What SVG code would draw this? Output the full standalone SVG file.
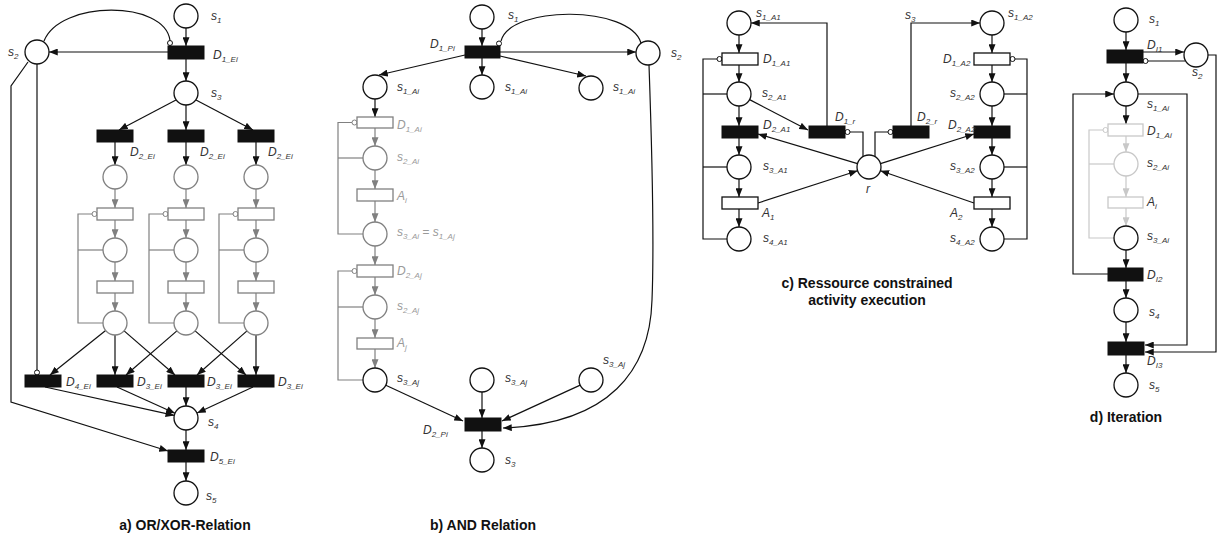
<svg xmlns="http://www.w3.org/2000/svg" width="1218" height="540" viewBox="0 0 1218 540">
<style>
.p{fill:#fff;stroke:#111;stroke-width:1.3}
.pg{fill:#fff;stroke:#808080;stroke-width:1.3}
.pl{fill:#fff;stroke:#c8c8c8;stroke-width:1.3}
.tb{fill:#111;stroke:#111;stroke-width:1}
.tw{fill:#fff;stroke:#111;stroke-width:1.3}
.tg{fill:#fff;stroke:#808080;stroke-width:1.3}
.tl{fill:#fff;stroke:#c8c8c8;stroke-width:1.3}
.e{fill:none;stroke:#111;stroke-width:1.2}
.eg{fill:none;stroke:#808080;stroke-width:1.2}
.el{fill:none;stroke:#c8c8c8;stroke-width:1.2}
.a{marker-end:url(#ab)}
.ag{marker-end:url(#ag)}
.al{marker-end:url(#al)}
.i{fill:#fff;stroke:#111;stroke-width:1}
.ig{fill:#fff;stroke:#808080;stroke-width:1}
.il{fill:#fff;stroke:#c8c8c8;stroke-width:1}
.lb{font-family:"Liberation Sans",Arial,sans-serif;font-style:italic;font-size:12px;fill:#333}
.lg{fill:#9a9a9a}
.sb{font-size:8px}
.en{text-anchor:end}
.ttl{font-family:"Liberation Sans",Arial,sans-serif;font-weight:bold;font-size:14px;text-anchor:middle;fill:#111}
</style>
<defs>
<marker id="ab" viewBox="0 0 10 8" refX="10" refY="4" markerWidth="9" markerHeight="7" orient="auto" markerUnits="userSpaceOnUse"><path d="M0,0 L10,4 L0,8 z" fill="#111"/></marker>
<marker id="ag" viewBox="0 0 10 8" refX="10" refY="4" markerWidth="9" markerHeight="7" orient="auto" markerUnits="userSpaceOnUse"><path d="M0,0 L10,4 L0,8 z" fill="#808080"/></marker>
<marker id="al" viewBox="0 0 10 8" refX="10" refY="4" markerWidth="9" markerHeight="7" orient="auto" markerUnits="userSpaceOnUse"><path d="M0,0 L10,4 L0,8 z" fill="#c8c8c8"/></marker>
</defs>

<!-- ================= connectors ================= -->
<g id="connectors">
<!-- a -->
<path class="e a" d="M186 28 V46"/>
<path class="e a" d="M168 52 H49"/>
<path class="e" d="M44 41 C60 0 165 0 170 40.5"/>
<circle class="i" cx="170" cy="43" r="2.5"/>
<path class="e a" d="M186 59 V81"/>
<path class="e a" d="M176 100 L119 130"/>
<path class="e a" d="M186 105 V130"/>
<path class="e a" d="M196 100 L253 130"/>
<path class="e a" d="M115 142 V165"/>
<path class="e a" d="M186 142 V165"/>
<path class="e a" d="M256 142 V165"/>
<!-- gray columns -->
<path class="eg ag" d="M115 189 V208"/><path class="eg ag" d="M115 220 V238"/><path class="eg ag" d="M115 262 V281"/><path class="eg ag" d="M115 293 V311"/>
<path class="eg" d="M92.5 214 H78 V323 H103"/><path class="eg" d="M78 250 H103"/><circle class="ig" cx="94.5" cy="214" r="2.5"/>
<path class="eg ag" d="M186 189 V208"/><path class="eg ag" d="M186 220 V238"/><path class="eg ag" d="M186 262 V281"/><path class="eg ag" d="M186 293 V311"/>
<path class="eg" d="M163.5 214 H149 V323 H174"/><path class="eg" d="M149 250 H174"/><circle class="ig" cx="165.5" cy="214" r="2.5"/>
<path class="eg ag" d="M256 189 V208"/><path class="eg ag" d="M256 220 V238"/><path class="eg ag" d="M256 262 V281"/><path class="eg ag" d="M256 293 V311"/>
<path class="eg" d="M233.5 214 H219 V323 H244"/><path class="eg" d="M219 250 H244"/><circle class="ig" cx="235.5" cy="214" r="2.5"/>
<!-- to bottom transitions -->
<path class="e a" d="M105.6 330.5 L50 375"/>
<path class="e a" d="M115 335 V375"/>
<path class="e a" d="M124.1 330.9 L175 375"/>
<path class="e a" d="M176.9 330.9 L126 375"/>
<path class="e a" d="M195.1 330.9 L246 375"/>
<path class="e a" d="M247 330.9 L197 375"/>
<path class="e a" d="M256 335 V375"/>
<path class="e" d="M37 64 V370"/>
<circle class="i" cx="37" cy="372.5" r="2.5"/>
<path class="e a" d="M28 62 L11 86 V402 L168 451"/>
<path class="e a" d="M45 387 L174.3 415.4"/>
<path class="e a" d="M117 387 L175 413.2"/>
<path class="e a" d="M186 387 V406"/>
<path class="e a" d="M253 387 L197.1 413"/>
<path class="e a" d="M186 430 V450"/>
<path class="e a" d="M186 462 V481"/>

<!-- b -->
<path class="e a" d="M482 29 V46"/>
<path class="e a" d="M465 55 L379 75"/>
<path class="e a" d="M482 58 V75"/>
<path class="e a" d="M500 56 L586 76"/>
<path class="e a" d="M500 52 H636"/>
<path class="e" d="M501 41 C510 5 630 5 641 43"/>
<circle class="i" cx="499" cy="43.5" r="2.5"/>
<path class="e a" d="M375 99 V117"/>
<path class="eg ag" d="M375 128 V146"/>
<path class="eg ag" d="M375 170 V189"/>
<path class="eg ag" d="M375 201 V222"/>
<path class="eg ag" d="M375 246 V265"/>
<path class="eg ag" d="M375 277 V295"/>
<path class="eg ag" d="M375 319 V338"/>
<path class="eg ag" d="M375 349 V368"/>
<path class="eg" d="M352 122.5 H338 V234 H363"/><path class="eg" d="M338 158 H363"/><circle class="ig" cx="354.5" cy="122.5" r="2.5"/>
<path class="eg" d="M352 271 H338 V380 H363"/><path class="eg" d="M338 307 H363"/><circle class="ig" cx="354.5" cy="271" r="2.5"/>
<path class="e a" d="M385.8 385.2 L463 421"/>
<path class="e a" d="M482 392 V418"/>
<path class="e a" d="M580.2 385.1 L502 421"/>
<path class="e a" d="M649 65 C652 150 654 250 652 300 C650 370 610 424 503 428"/>
<path class="e a" d="M482 431 V448"/>

<!-- c -->
<path class="e a" d="M739 35 V53"/><path class="e a" d="M739 65 V82"/><path class="e a" d="M739 106 V126"/>
<path class="e a" d="M739 138 V155"/><path class="e a" d="M739 179 V197"/><path class="e a" d="M739 209 V227"/>
<path class="e" d="M717 59 H703 V239 H727"/><path class="e" d="M703 94 H727"/><path class="e" d="M703 167 H727"/>
<circle class="i" cx="719.5" cy="59" r="2.5"/>
<path class="e a" d="M992 35 V53"/><path class="e a" d="M992 65 V82"/><path class="e a" d="M992 106 V126"/>
<path class="e a" d="M992 138 V155"/><path class="e a" d="M992 179 V197"/><path class="e a" d="M992 209 V227"/>
<path class="e" d="M1015 59 H1027 V239 H1004"/><path class="e" d="M1027 94 H1004"/><path class="e" d="M1027 167 H1004"/>
<circle class="i" cx="1012.5" cy="59" r="2.5"/>
<path class="e a" d="M827 126 V23 H751"/>
<path class="e a" d="M911 126 V23 H980"/>
<path class="e a" d="M749.6 99.6 L808 130"/>
<path class="e" d="M850 132 H863 V156.6"/><circle class="i" cx="847.5" cy="132" r="2.5"/>
<path class="e" d="M888 132 H875 V156.6"/><circle class="i" cx="890.5" cy="132" r="2.5"/>
<path class="e a" d="M857.5 163.6 L758 134"/>
<path class="e a" d="M880.5 163.6 L974 134"/>
<path class="e a" d="M758 203 L857.6 170.7"/>
<path class="e a" d="M974 203 L880.4 170.7"/>

<!-- d -->
<path class="e a" d="M1126 32 V50"/>
<path class="e a" d="M1143 52 H1184"/>
<path class="e" d="M1185 61 H1148"/><circle class="i" cx="1145.5" cy="61" r="2.5"/>
<path class="e a" d="M1208 55 H1216 V352 H1145"/>
<path class="e a" d="M1126 63 V82"/>
<path class="e a" d="M1108 274 H1073 V94 H1114"/>
<path class="e a" d="M1138 94 H1187 V345 H1145"/>
<path class="e a" d="M1126 106 V124"/>
<path class="el" d="M1103 130 H1089 V238 H1114"/><path class="el" d="M1089 164 H1114"/><circle class="il" cx="1105.5" cy="130" r="2.5"/>
<path class="el al" d="M1126 136 V152"/>
<path class="el al" d="M1126 176 V197"/>
<path class="el al" d="M1126 208 V226"/>
<path class="e a" d="M1126 250 V268"/>
<path class="e a" d="M1126 281 V298"/>
<path class="e a" d="M1126 322 V342"/>
<path class="e a" d="M1126 355 V373"/>
</g>

<!-- ================= a) nodes ================= -->
<g id="a_s1"><circle class="p" cx="186" cy="16" r="12"/><text class="lb" x="211" y="20">s<tspan class="sb" dy="3">1</tspan></text></g>
<g id="a_D1"><rect class="tb" x="168" y="46" width="36" height="13"/><text class="lb" x="213" y="59">D<tspan class="sb" dy="3">1_Ei</tspan></text></g>
<g id="a_s2"><circle class="p" cx="37" cy="52" r="12"/><text class="lb" x="8" y="56">s<tspan class="sb" dy="3">2</tspan></text></g>
<g id="a_s3"><circle class="p" cx="186" cy="93" r="12"/><text class="lb" x="211" y="97">s<tspan class="sb" dy="3">3</tspan></text></g>
<g id="a_D2a"><rect class="tb" x="97" y="130" width="36" height="12"/><text class="lb" x="130" y="156">D<tspan class="sb" dy="3">2_Ei</tspan></text></g>
<g id="a_D2b"><rect class="tb" x="168" y="130" width="36" height="12"/><text class="lb" x="200" y="156">D<tspan class="sb" dy="3">2_Ei</tspan></text></g>
<g id="a_D2c"><rect class="tb" x="238" y="130" width="36" height="12"/><text class="lb" x="268" y="156">D<tspan class="sb" dy="3">2_Ei</tspan></text></g>
<g id="a_col1"><circle class="pg" cx="115" cy="177" r="12"/><rect class="tg" x="97" y="208" width="36" height="12"/><circle class="pg" cx="115" cy="250" r="12"/><rect class="tg" x="97" y="281" width="36" height="12"/><circle class="pg" cx="115" cy="323" r="12"/></g>
<g id="a_col2"><circle class="pg" cx="186" cy="177" r="12"/><rect class="tg" x="168" y="208" width="36" height="12"/><circle class="pg" cx="186" cy="250" r="12"/><rect class="tg" x="168" y="281" width="36" height="12"/><circle class="pg" cx="186" cy="323" r="12"/></g>
<g id="a_col3"><circle class="pg" cx="256" cy="177" r="12"/><rect class="tg" x="238" y="208" width="36" height="12"/><circle class="pg" cx="256" cy="250" r="12"/><rect class="tg" x="238" y="281" width="36" height="12"/><circle class="pg" cx="256" cy="323" r="12"/></g>
<g id="a_D4"><rect class="tb" x="25" y="375" width="36" height="12"/><text class="lb" x="66" y="386">D<tspan class="sb" dy="3">4_Ei</tspan></text></g>
<g id="a_D3a"><rect class="tb" x="97" y="375" width="36" height="12"/><text class="lb" x="137" y="386">D<tspan class="sb" dy="3">3_Ei</tspan></text></g>
<g id="a_D3b"><rect class="tb" x="168" y="375" width="36" height="12"/><text class="lb" x="207" y="386">D<tspan class="sb" dy="3">3_Ei</tspan></text></g>
<g id="a_D3c"><rect class="tb" x="238" y="375" width="36" height="12"/><text class="lb" x="278" y="386">D<tspan class="sb" dy="3">3_Ei</tspan></text></g>
<g id="a_s4"><circle class="p" cx="186" cy="418" r="12"/><text class="lb" x="208" y="426">s<tspan class="sb" dy="3">4</tspan></text></g>
<g id="a_D5"><rect class="tb" x="168" y="450" width="36" height="12"/><text class="lb" x="210" y="461">D<tspan class="sb" dy="3">5_Ei</tspan></text></g>
<g id="a_s5"><circle class="p" cx="186" cy="493" r="12"/><text class="lb" x="206" y="500">s<tspan class="sb" dy="3">5</tspan></text></g>
<text class="ttl" x="185" y="530">a) OR/XOR-Relation</text>

<!-- ================= b) nodes ================= -->
<g id="b_s1"><circle class="p" cx="482" cy="17" r="12"/><text class="lb" x="508" y="19">s<tspan class="sb" dy="3">1</tspan></text></g>
<g id="b_D1"><rect class="tb" x="465" y="46" width="35" height="12"/><text class="lb" x="430" y="48">D<tspan class="sb" dy="3">1_Pi</tspan></text></g>
<g id="b_s2"><circle class="p" cx="648" cy="53" r="12"/><text class="lb" x="671" y="57">s<tspan class="sb" dy="3">2</tspan></text></g>
<g id="b_s1A1"><circle class="p" cx="375" cy="87" r="12"/><text class="lb" x="397" y="91">s<tspan class="sb" dy="3">1_Ai</tspan></text></g>
<g id="b_s1A2"><circle class="p" cx="482" cy="87" r="12"/><text class="lb" x="505" y="91">s<tspan class="sb" dy="3">1_Ai</tspan></text></g>
<g id="b_s1A3"><circle class="p" cx="591" cy="88" r="12"/><text class="lb" x="613" y="91">s<tspan class="sb" dy="3">1_Ai</tspan></text></g>
<g id="b_D1Ai"><rect class="tg" x="357" y="117" width="36" height="11"/><text class="lb lg" x="397" y="129">D<tspan class="sb" dy="3">1_Ai</tspan></text></g>
<g id="b_s2Ai"><circle class="pg" cx="375" cy="158" r="12"/><text class="lb lg" x="397" y="161">s<tspan class="sb" dy="3">2_Ai</tspan></text></g>
<g id="b_Ai"><rect class="tg" x="357" y="189" width="36" height="12"/><text class="lb lg" x="397" y="200">A<tspan class="sb" dy="3">i</tspan></text></g>
<g id="b_s3Ai"><circle class="pg" cx="375" cy="234" r="12"/><text class="lb lg" x="397" y="236">s<tspan class="sb" dy="3">3_Ai</tspan><tspan dy="-3"> = s</tspan><tspan class="sb" dy="3">1_Aj</tspan></text></g>
<g id="b_D2Aj"><rect class="tg" x="357" y="265" width="36" height="12"/><text class="lb lg" x="397" y="275">D<tspan class="sb" dy="3">2_Aj</tspan></text></g>
<g id="b_s2Aj"><circle class="pg" cx="375" cy="307" r="12"/><text class="lb lg" x="397" y="310">s<tspan class="sb" dy="3">2_Aj</tspan></text></g>
<g id="b_Aj"><rect class="tg" x="357" y="338" width="36" height="11"/><text class="lb lg" x="397" y="347">A<tspan class="sb" dy="3">j</tspan></text></g>
<g id="b_s3Aj1"><circle class="p" cx="375" cy="380" r="12"/><text class="lb" x="397" y="382">s<tspan class="sb" dy="3">3_Aj</tspan></text></g>
<g id="b_s3Aj2"><circle class="p" cx="482" cy="380" r="12"/><text class="lb" x="505" y="382">s<tspan class="sb" dy="3">3_Aj</tspan></text></g>
<g id="b_s3Aj3"><circle class="p" cx="591" cy="380" r="12"/><text class="lb" x="603" y="364">s<tspan class="sb" dy="3">3_Aj</tspan></text></g>
<g id="b_D2"><rect class="tb" x="465" y="418" width="36" height="13"/><text class="lb" x="423" y="434">D<tspan class="sb" dy="3">2_Pi</tspan></text></g>
<g id="b_s3"><circle class="p" cx="482" cy="460" r="12"/><text class="lb" x="505" y="464">s<tspan class="sb" dy="3">3</tspan></text></g>
<text class="ttl" x="483" y="530">b) AND Relation</text>

<!-- ================= c) nodes ================= -->
<g id="c_s1A1"><circle class="p" cx="739" cy="23" r="12"/><text class="lb" x="756" y="17">s<tspan class="sb" dy="3">1_A1</tspan></text></g>
<g id="c_D1A1"><rect class="tw" x="722" y="53" width="36" height="12"/><text class="lb" x="763" y="63">D<tspan class="sb" dy="3">1_A1</tspan></text></g>
<g id="c_s2A1"><circle class="p" cx="739" cy="94" r="12"/><text class="lb" x="762" y="97">s<tspan class="sb" dy="3">2_A1</tspan></text></g>
<g id="c_D2A1"><rect class="tb" x="722" y="126" width="36" height="12"/><text class="lb" x="763" y="129">D<tspan class="sb" dy="3">2_A1</tspan></text></g>
<g id="c_s3A1"><circle class="p" cx="739" cy="167" r="12"/><text class="lb" x="763" y="170">s<tspan class="sb" dy="3">3_A1</tspan></text></g>
<g id="c_A1"><rect class="tw" x="722" y="197" width="36" height="12"/><text class="lb" x="762" y="217">A<tspan class="sb" dy="3">1</tspan></text></g>
<g id="c_s4A1"><circle class="p" cx="739" cy="239" r="12"/><text class="lb" x="763" y="242">s<tspan class="sb" dy="3">4_A1</tspan></text></g>
<g id="c_D1r"><rect class="tb" x="809" y="126" width="36" height="12"/><text class="lb" x="835" y="121">D<tspan class="sb" dy="3">1_r</tspan></text></g>
<g id="c_D2r"><rect class="tb" x="893" y="126" width="36" height="12"/><text class="lb" x="917" y="121">D<tspan class="sb" dy="3">2_r</tspan></text></g>
<g id="c_r"><circle class="p" cx="869" cy="167" r="12"/><text class="lb" x="866" y="193">r</text></g>
<text class="lb" x="905" y="19">s<tspan class="sb" dy="3">3</tspan></text>
<g id="c_s1A2"><circle class="p" cx="992" cy="23" r="12"/><text class="lb" x="1008" y="17">s<tspan class="sb" dy="3">1_A2</tspan></text></g>
<g id="c_D1A2"><rect class="tw" x="974" y="53" width="36" height="12"/><text class="lb" x="943" y="63">D<tspan class="sb" dy="3">1_A2</tspan></text></g>
<g id="c_s2A2"><circle class="p" cx="992" cy="94" r="12"/><text class="lb" x="950" y="97">s<tspan class="sb" dy="3">2_A2</tspan></text></g>
<g id="c_D2A2"><rect class="tb" x="974" y="126" width="36" height="12"/><text class="lb" x="948" y="129">D<tspan class="sb" dy="3">2_A2</tspan></text></g>
<g id="c_s3A2"><circle class="p" cx="992" cy="167" r="12"/><text class="lb" x="950" y="170">s<tspan class="sb" dy="3">3_A2</tspan></text></g>
<g id="c_A2"><rect class="tw" x="974" y="197" width="36" height="12"/><text class="lb" x="950" y="217">A<tspan class="sb" dy="3">2</tspan></text></g>
<g id="c_s4A2"><circle class="p" cx="992" cy="239" r="12"/><text class="lb" x="950" y="242">s<tspan class="sb" dy="3">4_A2</tspan></text></g>
<text class="ttl" x="867" y="288">c) Ressource constrained</text>
<text class="ttl" x="867" y="305">activity execution</text>

<!-- ================= d) nodes ================= -->
<g id="d_s1"><circle class="p" cx="1126" cy="20" r="12"/><text class="lb" x="1149" y="23">s<tspan class="sb" dy="3">1</tspan></text></g>
<g id="d_DI1"><rect class="tb" x="1107" y="50" width="36" height="13"/><text class="lb" x="1147" y="49">D<tspan class="sb" dy="3">I1</tspan></text></g>
<g id="d_s2"><circle class="p" cx="1196" cy="55" r="12"/><text class="lb" x="1192" y="76">s<tspan class="sb" dy="3">2</tspan></text></g>
<g id="d_s1Ai"><circle class="p" cx="1126" cy="94" r="12"/><text class="lb" x="1147" y="108">s<tspan class="sb" dy="3">1_Ai</tspan></text></g>
<g id="d_D1Ai"><rect class="tl" x="1108" y="124" width="35" height="12"/><text class="lb" x="1147" y="135">D<tspan class="sb" dy="3">1_Ai</tspan></text></g>
<g id="d_s2Ai"><circle class="pl" cx="1126" cy="164" r="12"/><text class="lb" x="1147" y="167">s<tspan class="sb" dy="3">2_Ai</tspan></text></g>
<g id="d_Ai"><rect class="tl" x="1108" y="197" width="35" height="11"/><text class="lb" x="1147" y="206">A<tspan class="sb" dy="3">i</tspan></text></g>
<g id="d_s3Ai"><circle class="p" cx="1126" cy="238" r="12"/><text class="lb" x="1147" y="240">s<tspan class="sb" dy="3">3_Ai</tspan></text></g>
<g id="d_DI2"><rect class="tb" x="1108" y="268" width="35" height="13"/><text class="lb" x="1147" y="279">D<tspan class="sb" dy="3">I2</tspan></text></g>
<g id="d_s4"><circle class="p" cx="1126" cy="310" r="12"/><text class="lb" x="1149" y="316">s<tspan class="sb" dy="3">4</tspan></text></g>
<g id="d_DI3"><rect class="tb" x="1108" y="342" width="36" height="13"/><text class="lb" x="1147" y="365">D<tspan class="sb" dy="3">I3</tspan></text></g>
<g id="d_s5"><circle class="p" cx="1126" cy="385" r="12"/><text class="lb" x="1149" y="389">s<tspan class="sb" dy="3">5</tspan></text></g>
<text class="ttl" x="1126" y="422">d) Iteration</text>
</svg>
